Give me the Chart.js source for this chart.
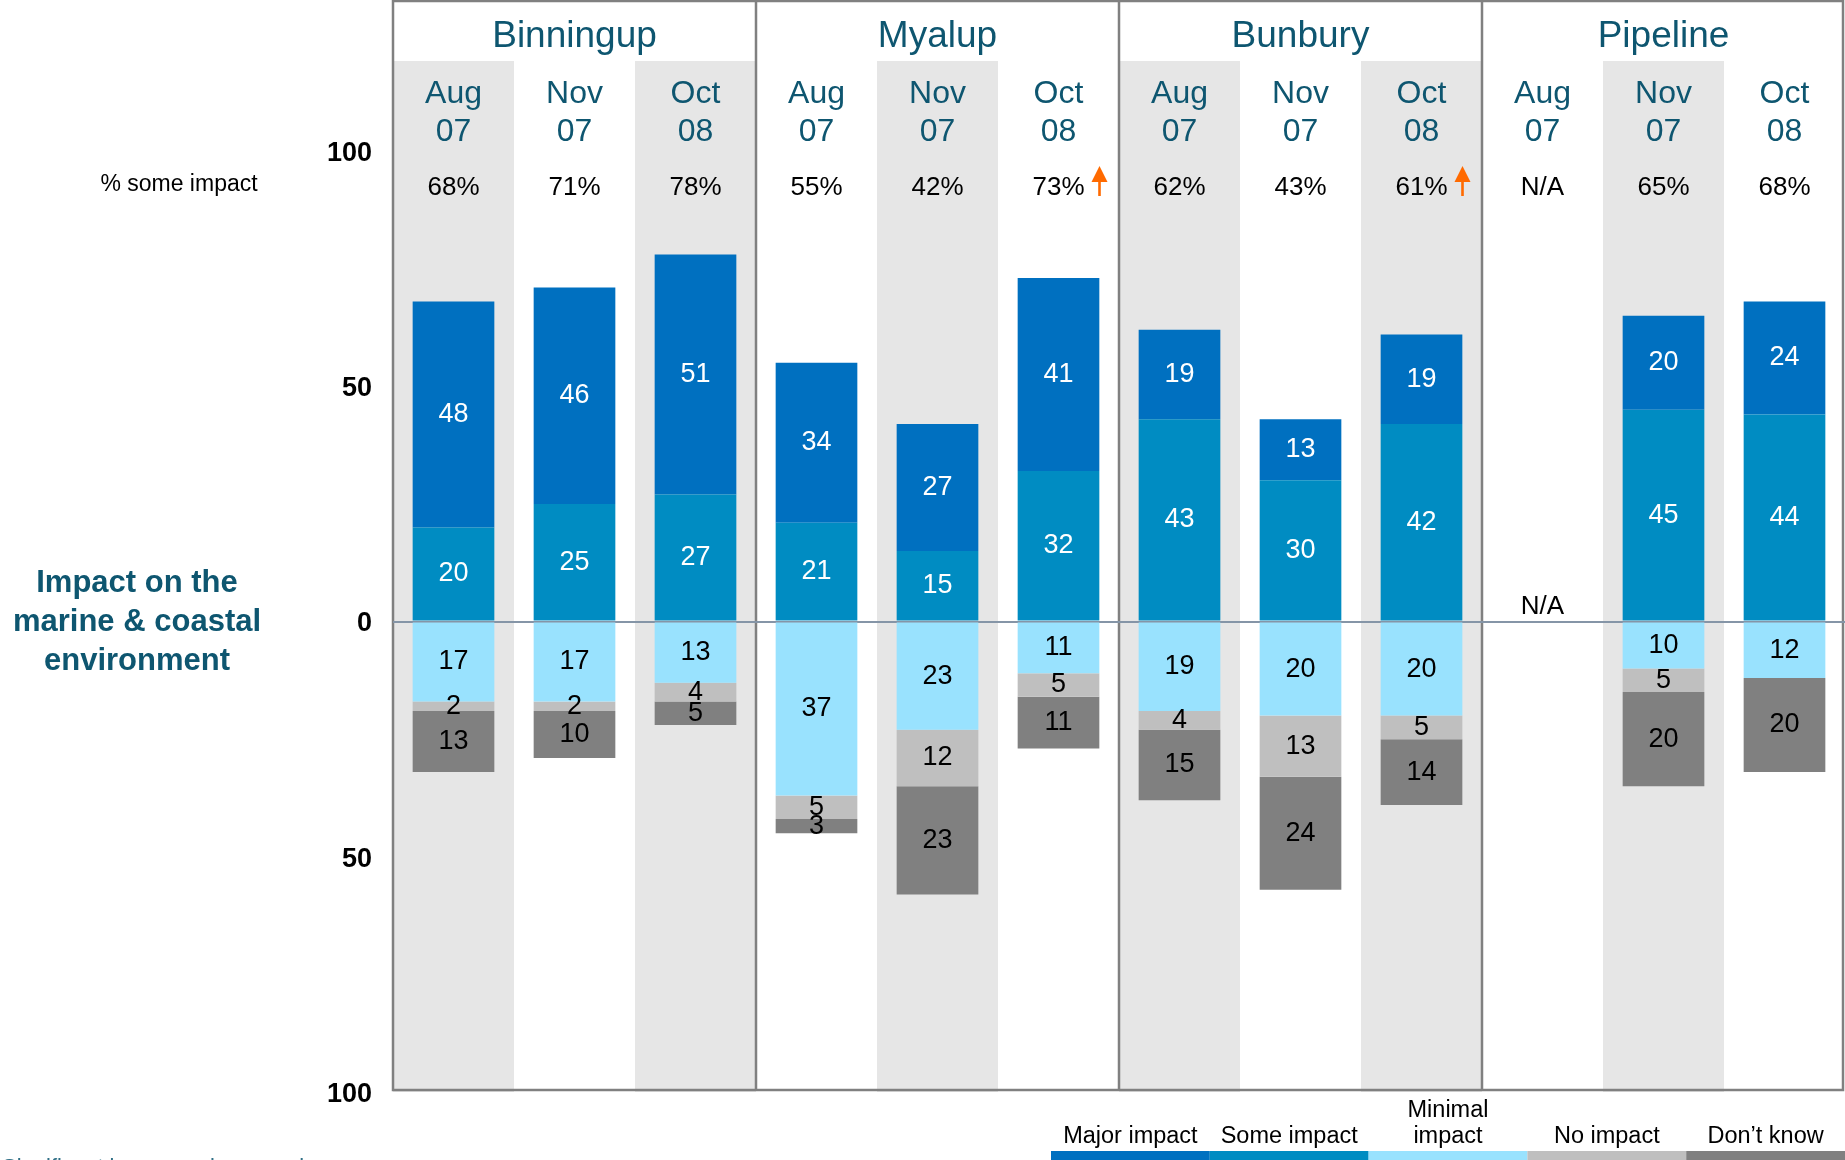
<!DOCTYPE html>
<html>
<head>
<meta charset="utf-8">
<title>Impact on the marine & coastal environment</title>
<script src="https://cdn.jsdelivr.net/npm/chart.js@4.4.1/dist/chart.umd.min.js"></script>
<style>
  html, body { margin: 0; padding: 0; background: #fff; }
  #wrap { width: 1845px; height: 1160px; }
</style>
</head>
<body>
<div id="wrap"><canvas id="chart" width="1845" height="1160"></canvas></div>
<script>
// groups / waves
const groups = ['Binningup', 'Myalup', 'Bunbury', 'Pipeline'];
const waves = [['Aug', '07'], ['Nov', '07'], ['Oct', '08']];
const columns = [];
groups.forEach(g => waves.forEach(w => columns.push(g + ' ' + w.join(' '))));

// values (%), null = N/A
const majorImpact   = [48, 46, 51,  34, 27, 41,  19, 13, 19,  null, 20, 24];
const someImpact    = [20, 25, 27,  21, 15, 32,  43, 30, 42,  null, 45, 44];
const minimalImpact = [17, 17, 13,  37, 23, 11,  19, 20, 20,  null, 10, 12];
const noImpact      = [ 2,  2,  4,   5, 12,  5,   4, 13,  5,  null,  5,  0];
const dontKnow      = [13, 10,  5,   3, 23, 11,  15, 24, 14,  null, 20, 20];

const someImpactPct = ['68%', '71%', '78%', '55%', '42%', '73%', '62%', '43%', '61%', 'N/A', '65%', '68%'];
const significantUp = [false, false, false, false, false, true, false, false, true, false, false, false];

const yTicks = [-100, -50, 0, 50, 100];

const FONT = '"Liberation Sans", Arial, Helvetica, sans-serif';
const TEAL = '#0e5670';

// legend order
const series = [
  { name: 'Major impact', data: majorImpact, color: '#0070c0', text: '#fff', sign: 1 },
  { name: 'Some impact', data: someImpact, color: '#008cc2', text: '#fff', sign: 1 },
  { name: 'Minimal\nimpact', data: minimalImpact, color: '#99e2fe', text: '#000', sign: -1 },
  { name: 'No impact', data: noImpact, color: '#bfbfbf', text: '#000', sign: -1 },
  { name: 'Don\u2019t know', data: dontKnow, color: '#808080', text: '#000', sign: -1 },
];
// stacking order (some impact sits on zero, major on top of it)
const stackOrder = [1, 0, 2, 3, 4];

const datasets = stackOrder.map(k => {
  const s = series[k];
  return {
    label: s.name.replace('\n', ' '),
    data: s.data.map(v => v === null ? null : v * s.sign),
    backgroundColor: s.color,
    labelColor: s.text,
    borderWidth: 0,
    barPercentage: 0.675,
    categoryPercentage: 1.0,
  };
});

const SHADE_TOP = 61;
const FRAME_TOP = 1;

const decor = {
  id: 'decor',
  beforeDraw(chart) {
    const { ctx, chartArea } = chart;
    const x = chart.scales.x, y = chart.scales.y;
    const colW = (chartArea.right - chartArea.left) / columns.length;
    const bottom = y.getPixelForValue(-100);
    ctx.save();
    ctx.fillStyle = '#fff';
    ctx.fillRect(0, 0, chart.width, chart.height);
    // alternate column shading
    ctx.fillStyle = '#e6e6e6';
    columns.forEach((c, i) => {
      if (i % 2 === 0) {
        const cx = x.getPixelForValue(i);
        ctx.fillRect(cx - colW / 2, SHADE_TOP, colW, bottom - SHADE_TOP);
      }
    });
    // frame + group dividers
    ctx.strokeStyle = '#808080';
    ctx.lineWidth = 2.5;
    const right = chartArea.right - 2;
    ctx.strokeRect(chartArea.left, FRAME_TOP, right - chartArea.left, bottom - 2 - FRAME_TOP);
    ctx.beginPath();
    for (let g = 1; g < groups.length; g++) {
      const gx = x.getPixelForValue(g * 3) - colW / 2;
      ctx.moveTo(gx, FRAME_TOP);
      ctx.lineTo(gx, bottom - 2);
    }
    ctx.stroke();
    ctx.restore();
  },
  afterDatasetsDraw(chart) {
    const { ctx } = chart;
    ctx.save();
    ctx.font = '27px ' + FONT;
    ctx.textAlign = 'center';
    ctx.textBaseline = 'middle';
    chart.data.datasets.forEach((ds, di) => {
      const meta = chart.getDatasetMeta(di);
      meta.data.forEach((bar, i) => {
        const v = ds.data[i];
        if (v === null || v === 0) return;
        ctx.fillStyle = ds.labelColor;
        ctx.fillText(String(Math.abs(v)), bar.x, (bar.y + bar.base) / 2);
      });
    });
    ctx.restore();
  },
  afterDraw(chart) {
    const { ctx } = chart;
    const x = chart.scales.x, y = chart.scales.y;
    ctx.save();
    ctx.textAlign = 'center';
    ctx.textBaseline = 'middle';

    // group titles
    ctx.fillStyle = TEAL;
    ctx.font = '37px ' + FONT;
    groups.forEach((g, gi) => {
      ctx.fillText(g, x.getPixelForValue(gi * 3 + 1), 36.5);
    });
    // wave labels
    ctx.font = '32px ' + FONT;
    columns.forEach((c, i) => {
      const w = waves[i % 3];
      const cx = x.getPixelForValue(i);
      ctx.fillText(w[0], cx, 94.5);
      ctx.fillText(w[1], cx, 132.5);
    });

    // % some impact row
    ctx.fillStyle = '#000';
    ctx.font = '26px ' + FONT;
    someImpactPct.forEach((p, i) => {
      ctx.fillText(p, x.getPixelForValue(i), 187.5);
    });
    ctx.font = '23px ' + FONT;
    ctx.fillText('% some impact', 179, 185);

    // N/A near zero line
    ctx.font = '26px ' + FONT;
    majorImpact.forEach((v, i) => {
      if (v === null) ctx.fillText('N/A', x.getPixelForValue(i), y.getPixelForValue(0) - 15);
    });

    // significance arrows
    ctx.fillStyle = '#ff6a00';
    significantUp.forEach((up, i) => {
      if (!up) return;
      const ax = x.getPixelForValue(i) + 41;
      ctx.fillRect(ax - 1.3, 179, 2.6, 17);
      ctx.beginPath();
      ctx.moveTo(ax, 166);
      ctx.lineTo(ax - 8, 182);
      ctx.lineTo(ax + 8, 182);
      ctx.closePath();
      ctx.fill();
    });

    // left title
    ctx.fillStyle = TEAL;
    ctx.font = 'bold 31px ' + FONT;
    ['Impact on the', 'marine & coastal', 'environment'].forEach((t, k) => {
      ctx.fillText(t, 137, 583.5 + k * 39);
    });

    // legend strip
    const legLeft = 1051, legW = 158.8;
    ctx.font = '23.5px ' + FONT;
    series.forEach((s, k) => {
      const lx = legLeft + k * legW;
      ctx.fillStyle = s.color;
      ctx.fillRect(lx, 1151, legW, 9);
      ctx.fillStyle = '#000';
      const lines = s.name.split('\n');
      lines.forEach((ln, j) => {
        ctx.fillText(ln, lx + legW / 2, 1136.5 - (lines.length - 1 - j) * 26);
      });
    });

    // footnote (cut at the bottom edge)
    ctx.textAlign = 'left';
    ctx.textBaseline = 'top';
    ctx.fillStyle = '#2f6f86';
    ctx.font = '22px ' + FONT;
    ctx.fillText('Significant increase since previous survey', 2, 1157);
    ctx.restore();
  }
};

new Chart(document.getElementById('chart'), {
  type: 'bar',
  data: { labels: columns, datasets: datasets },
  options: {
    responsive: false,
    animation: false,
    devicePixelRatio: 1,
    layout: { padding: { top: 151, bottom: 68, left: 0, right: 0 } },
    plugins: {
      legend: { display: false },
      title: { display: false },
      tooltip: { enabled: false },
    },
    scales: {
      x: {
        display: false,
        stacked: true,
        offset: true,
        grid: { display: false },
      },
      y: {
        stacked: true,
        min: yTicks[0],
        max: yTicks[yTicks.length - 1],
        afterFit(scale) { scale.width = 393; },
        afterBuildTicks(scale) { scale.ticks = yTicks.map(v => ({ value: v })); },
        ticks: {
          padding: 21,
          labelOffset: 2.5,
          color: '#000',
          font: { family: FONT, size: 27, weight: 'bold' },
          callback: v => String(Math.abs(v)),
        },
        grid: {
          drawTicks: false,
          lineWidth: 2,
          color: c => (c.tick && c.tick.value === 0) ? '#8595a7' : 'rgba(0,0,0,0)',
        },
        border: { display: false },
      },
    },
  },
  plugins: [decor],
});
</script>
</body>
</html>
